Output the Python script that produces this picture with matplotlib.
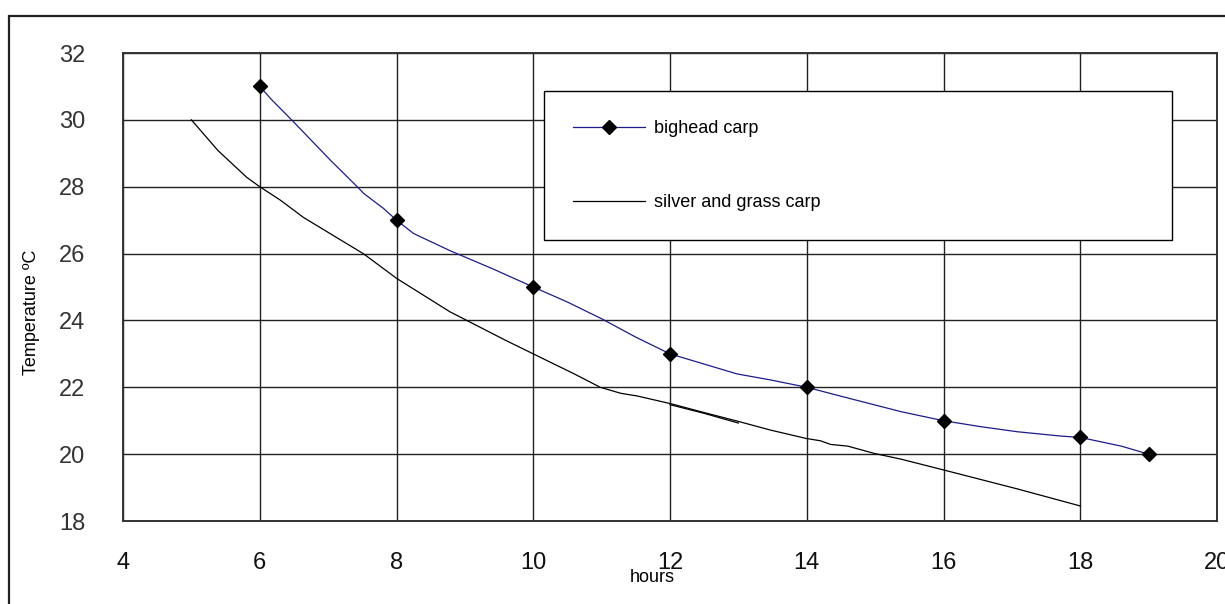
import matplotlib
matplotlib.use("Agg")
import matplotlib.pyplot as plt
from matplotlib.patches import Rectangle
import numpy as np

plt.rcParams['font.family'] = ['Liberation Sans', 'DejaVu Sans']

# ---- data ----
bighead_hours = [6, 8, 10, 12, 14, 16, 18, 19]
bighead_temp = [31, 27, 25, 23, 22, 21, 20.5, 20]

bighead_curve_x = [6, 6.18, 6.49, 7.03, 7.45, 7.52, 7.81, 8, 8.25, 8.79, 9.4, 10,
                   10.5, 11.0, 11.5, 12, 12.98, 13.47, 14, 14.6, 15.38, 16,
                   16.55, 17.08, 17.72, 18, 18.6, 19]
bighead_curve_y = [31, 30.59, 29.95, 28.8, 27.95, 27.8, 27.35, 27, 26.6, 26.08, 25.55, 25,
                   24.55, 24.05, 23.5, 23, 22.4, 22.22, 22, 21.68, 21.27, 21,
                   20.82, 20.67, 20.54, 20.5, 20.24, 20]

silver_x = [5.0, 5.39, 5.81, 6.0, 6.30, 6.64, 7.52, 8.0, 8.78, 9.6, 10.0, 10.6,
            10.98, 11.28, 11.52, 12.03, 12.45, 12.98, 13.47, 13.99, 14.2, 14.35,
            14.6, 14.99, 15.38, 16.11, 17.08, 18.0]
silver_y = [30.0, 29.08, 28.28, 28.0, 27.6, 27.08, 25.99, 25.26, 24.26, 23.4, 23.0, 22.4,
            22.0, 21.82, 21.74, 21.5, 21.27, 20.99, 20.72, 20.47, 20.4, 20.29,
            20.24, 20.02, 19.85, 19.47, 18.96, 18.45]

extra_x = [12.0, 12.5, 13.0]
extra_y = [21.48, 21.22, 20.93]

x_ticks = [4, 6, 8, 10, 12, 14, 16, 18, 20]
y_ticks = [18, 20, 22, 24, 26, 28, 30, 32]

# ---- figure ----
fig = plt.figure(figsize=(12.25, 6.04), dpi=100)
ax = fig.add_axes([123/1225, 1-521/604, (1217-123)/1225, (521-53)/604])

# outer frame
fig.patches.append(Rectangle((9/1225, -0.2), 1.2, 1.2 - 16/604,
                             transform=fig.transFigure, fill=False,
                             edgecolor='#222222', linewidth=1.6))

ax.set_xlim(4, 20)
ax.set_ylim(18, 32)
ax.set_xticks(x_ticks)
ax.set_yticks(y_ticks)
ax.grid(True, color='#222222', linewidth=1.0)
ax.set_axisbelow(True)
for s in ax.spines.values():
    s.set_linewidth(1.4)
    s.set_color('#333333')
ax.tick_params(axis='both', length=0, labelsize=17)
ax.tick_params(axis='y', pad=27, labelcolor='#333333')
ax.tick_params(axis='x', pad=22, labelcolor='#111111')

marker_idx = [bighead_curve_x.index(h) for h in bighead_hours]
ax.plot(bighead_curve_x, bighead_curve_y, color='#1c1c8c', linewidth=0.9,
        marker='D', markersize=7.5, markerfacecolor='black', markeredgecolor='black',
        markevery=marker_idx, label='bighead carp', zorder=3)
ax.plot(silver_x, silver_y, color='black', linewidth=0.9,
        label='silver and grass carp', zorder=3)
ax.plot(extra_x, extra_y, color='black', linewidth=0.9, zorder=3)

leg = ax.legend(loc='upper left', bbox_to_anchor=(0.3848, 0.9188 - 0.5, 0.5741, 0.5),
                mode='expand', borderaxespad=0, fontsize=13, frameon=True,
                fancybox=False, edgecolor='black', framealpha=1,
                borderpad=1.62, labelspacing=3.15, handlelength=4.0,
                handletextpad=0.45)
leg.get_frame().set_linewidth(1.0)

fig.text(652/1225, 1-578/604, 'hours', ha='center', va='center', fontsize=13)
fig.text(31/1225, 1-312/604, 'Temperature ºC', ha='center', va='center',
         rotation=90, fontsize=13)

fig.savefig('out.png', dpi=100)
